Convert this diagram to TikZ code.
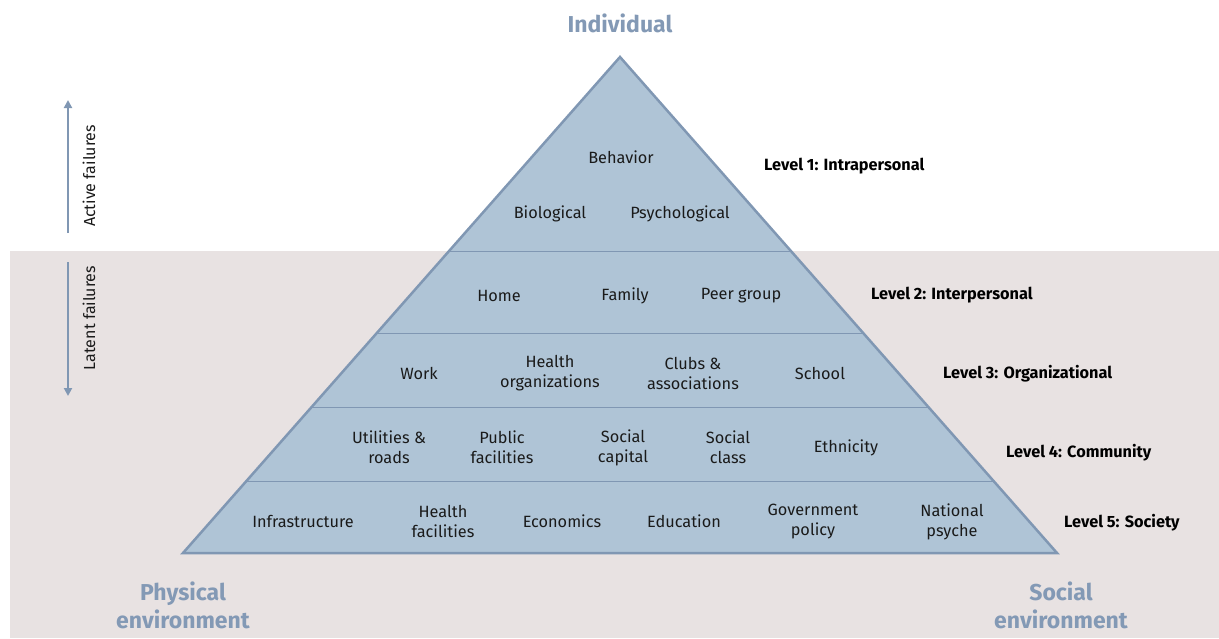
\documentclass[tikz,border=0pt]{standalone}
\usepackage{fontspec}
\setmainfont{Fira Sans}
\usetikzlibrary{arrows.meta}
\definecolor{band}{HTML}{E8E2E2}
\definecolor{pyr}{HTML}{AFC4D6}
\definecolor{pyrline}{HTML}{8097B3}
\definecolor{title}{HTML}{8399B5}
\definecolor{txt}{HTML}{1A1A1A}
\tikzset{
  item/.style={align=center, font=\fontsize{16.3}{20}\selectfont, text=txt, inner sep=0pt, yshift=-1.5pt},
  lvl/.style={anchor=west, font=\fontsize{16.3}{18}\selectfont\bfseries, text=black, inner sep=0pt, yshift=-1.5pt},
  big/.style={align=center, font=\fontsize{23}{28}\selectfont\bfseries, text=title, inner sep=0pt},
  side/.style={font=\fontsize{16}{17}\selectfont, text=txt, inner sep=0pt, rotate=90},
  arr/.style={pyrline, line width=2pt, -{Triangle[length=8pt,width=8pt]}},
  divider/.style={pyrline, line width=1pt}
}
\begin{document}
\begin{tikzpicture}[x=1pt,y=-1pt]
\useasboundingbox (0,0) rectangle (1219,638);
\fill[band] (10,251) rectangle (1219,638);
% pyramid
\coordinate (apex) at (620,57);
\coordinate (bl) at (183,553);
\coordinate (br) at (1057,553);
\fill[pyr] (apex) -- (bl) -- (br) -- cycle;
\draw[divider] (449,251) -- (791,251);
\draw[divider] (377,333) -- (863,333);
\draw[divider] (312,407) -- (928,407);
\draw[divider] (246,481) -- (994,481);
\draw[pyrline, line width=2.5pt, line join=miter] (apex) -- (bl) -- (br) -- cycle;
% arrows
\coordinate (a1s) at (68,233);
\coordinate (a1e) at (68,100);
\coordinate (a2s) at (68,262);
\coordinate (a2e) at (68,396);
\draw[arr] (a1s) -- (a1e);
\draw[arr] (a2s) -- (a2e);
\node[side] (active) at (89,176) {Active failures};
\node[side] (latent) at (89,318) {Latent failures};
% titles
\node[big] (indiv) at (620,23) {Individual};
\node[big] (phys) at (183,605) {Physical\\environment};
\node[big] (soc) at (1061,605) {Social\\environment};
% level 1
\node[item] (beh) at (621,156) {Behavior};
\node[item] (bio) at (550,212) {Biological};
\node[item] (psy) at (680,212) {Psychological};
% level 2
\node[item] (home) at (499,294) {Home};
\node[item] (fam) at (625,294) {Family};
\node[item] (peer) at (741,294) {Peer group};
% level 3
\node[item] (work) at (419,372) {Work};
\node[item] (horg) at (550,372) {Health\\organizations};
\node[item] (club) at (693,372) {Clubs \&\\associations};
\node[item] (school) at (820,372) {School};
% level 4
\node[item] (util) at (389,446) {Utilities \&\\roads};
\node[item] (pub) at (502,446) {Public\\facilities};
\node[item] (scap) at (623,446) {Social\\capital};
\node[item] (scl) at (728,446) {Social\\class};
\node[item] (eth) at (846,446) {Ethnicity};
% level 5
\node[item] (infra) at (303,520) {Infrastructure};
\node[item] (hfac) at (443,520) {Health\\facilities};
\node[item] (econ) at (562,520) {Economics};
\node[item] (edu) at (684,520) {Education};
\node[item] (gov) at (813,520) {Government\\policy};
\node[item] (nat) at (952,520) {National\\psyche};
% level labels
\node[lvl] (l1) at (764,165) {Level 1: Intrapersonal};
\node[lvl] (l2) at (871,294) {Level 2: Interpersonal};
\node[lvl] (l3) at (943,372) {Level 3: Organizational};
\node[lvl] (l4) at (1006,451) {Level 4: Community};
\node[lvl] (l5) at (1064,521) {Level 5: Society};
\end{tikzpicture}
\end{document}
